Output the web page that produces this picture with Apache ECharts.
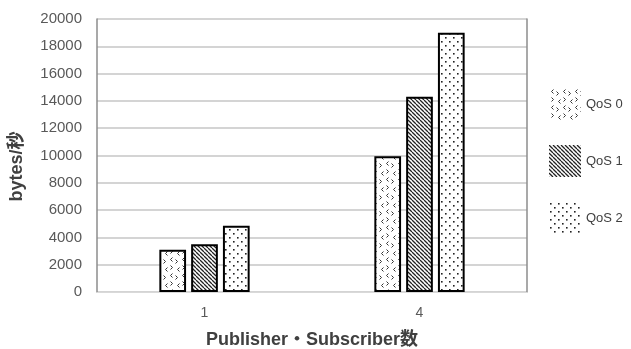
<!DOCTYPE html>
<html>
<head>
<meta charset="utf-8">
<script src="https://cdn.jsdelivr.net/npm/echarts@6/dist/echarts.min.js"></script>
<style>
  html, body { margin: 0; padding: 0; background: #fff; }
  #chart { width: 631px; height: 349px; }
</style>
</head>
<body>
<div id="chart"></div>
<script>
// Throughput per number of publishers/subscribers, by QoS level
const categories = ['1', '4'];
const seriesNames = ['QoS 0', 'QoS 1', 'QoS 2'];
const qos0 = [3100, 9950];
const qos1 = [3500, 14300];
const qos2 = [4850, 19000];
const yTicks = [0, 2000, 4000, 6000, 8000, 10000, 12000, 14000, 16000, 18000, 20000];

// Fill patterns for the bars (monochrome, like a printed chart)
function makeCanvas(w, h) {
  const c = document.createElement('canvas');
  c.width = w; c.height = h;
  const ctx = c.getContext('2d');
  ctx.fillStyle = '#fff';
  ctx.fillRect(0, 0, w, h);
  return [c, ctx];
}

// "confetti" of small chevrons
function chevronPattern() {
  const [c, ctx] = makeCanvas(12, 16);
  ctx.strokeStyle = '#333';
  ctx.lineWidth = 1;
  function chev(x, y, dir) {
    ctx.beginPath();
    ctx.moveTo(x + 2 * dir, y - 2);
    ctx.lineTo(x, y);
    ctx.lineTo(x + 2 * dir, y + 2);
    ctx.stroke();
  }
  chev(2.5, 3.5, 1);
  chev(9.5, 5.5, -1);
  chev(4.5, 11.5, -1);
  chev(9.5, 13.5, 1);
  return c;
}

// diagonal hatching, top-left to bottom-right
function hatchPattern() {
  const [c, ctx] = makeCanvas(4, 4);
  ctx.strokeStyle = '#222';
  ctx.lineWidth = 1.3;
  ctx.beginPath();
  for (let k = -4; k <= 8; k += 4) {
    ctx.moveTo(k, 0);
    ctx.lineTo(k + 4, 4);
  }
  ctx.stroke();
  return c;
}

// staggered dots
function dotPattern() {
  const [c, ctx] = makeCanvas(8, 8);
  ctx.fillStyle = '#222';
  ctx.fillRect(1, 1, 1.6, 1.6);
  ctx.fillRect(5, 5, 1.6, 1.6);
  return c;
}

const patterns = [chevronPattern(), hatchPattern(), dotPattern()];
const values = [qos0, qos1, qos2];

const labelFont = "'Liberation Sans', 'Noto Sans CJK JP', sans-serif";

const series = seriesNames.map((name, i) => ({
  name: name,
  type: 'bar',
  yAxisIndex: 0,
  data: values[i],
  barGap: '19%',
  barCategoryGap: '58%',
  itemStyle: {
    color: { image: patterns[i], repeat: 'repeat' },
    borderColor: '#000',
    borderWidth: 2
  }
}));

const chart = echarts.init(document.getElementById('chart'), null, { renderer: 'canvas' });
chart.setOption({
  animation: false,
  backgroundColor: '#fff',
  grid: { left: 97, right: 104, top: 19, bottom: 57, containLabel: false, outerBoundsMode: 'none' },
  legend: {
    orient: 'vertical',
    left: 544,
    top: 83,
    itemWidth: 32,
    itemHeight: 32,
    itemGap: 25,
    icon: 'rect',
    itemStyle: { borderWidth: 0 },
    textStyle: { fontFamily: labelFont, fontSize: 13, color: '#404040' },
    data: seriesNames
  },
  xAxis: {
    type: 'category',
    data: categories,
    name: 'Publisher・Subscriber数',
    nameLocation: 'middle',
    nameGap: 39,
    nameTextStyle: { fontFamily: labelFont, fontSize: 18, fontWeight: 'bold', color: '#404040' },
    axisLine: { show: true, lineStyle: { color: '#d9d9d9', width: 1 } },
    axisTick: { show: false },
    axisLabel: { fontFamily: labelFont, fontSize: 14, color: '#595959', margin: 14 }
  },
  yAxis: [
    {
      type: 'value',
      min: yTicks[0],
      max: yTicks[yTicks.length - 1],
      interval: yTicks[1] - yTicks[0],
      name: 'bytes/秒',
      nameLocation: 'middle',
      nameGap: 71,
      nameTextStyle: { fontFamily: labelFont, fontSize: 18, fontWeight: 'bold', color: '#404040',
                       padding: [0, 22, 0, 0] },
      axisLine: { show: true, lineStyle: { color: '#8c8c8c', width: 1.5 } },
      axisTick: { show: false },
      axisLabel: { fontFamily: labelFont, fontSize: 15, color: '#595959', margin: 15,
                   formatter: v => String(v) },
      splitLine: { show: true, lineStyle: { color: '#c6c6c6', width: 1.5 } }
    },
    {
      type: 'value',
      position: 'right',
      min: yTicks[0],
      max: yTicks[yTicks.length - 1],
      interval: yTicks[1] - yTicks[0],
      axisLine: { show: true, lineStyle: { color: '#8c8c8c', width: 1.5 } },
      axisTick: { show: false },
      axisLabel: { show: false },
      splitLine: { show: false }
    }
  ],
  series: series
});
</script>
</body>
</html>
